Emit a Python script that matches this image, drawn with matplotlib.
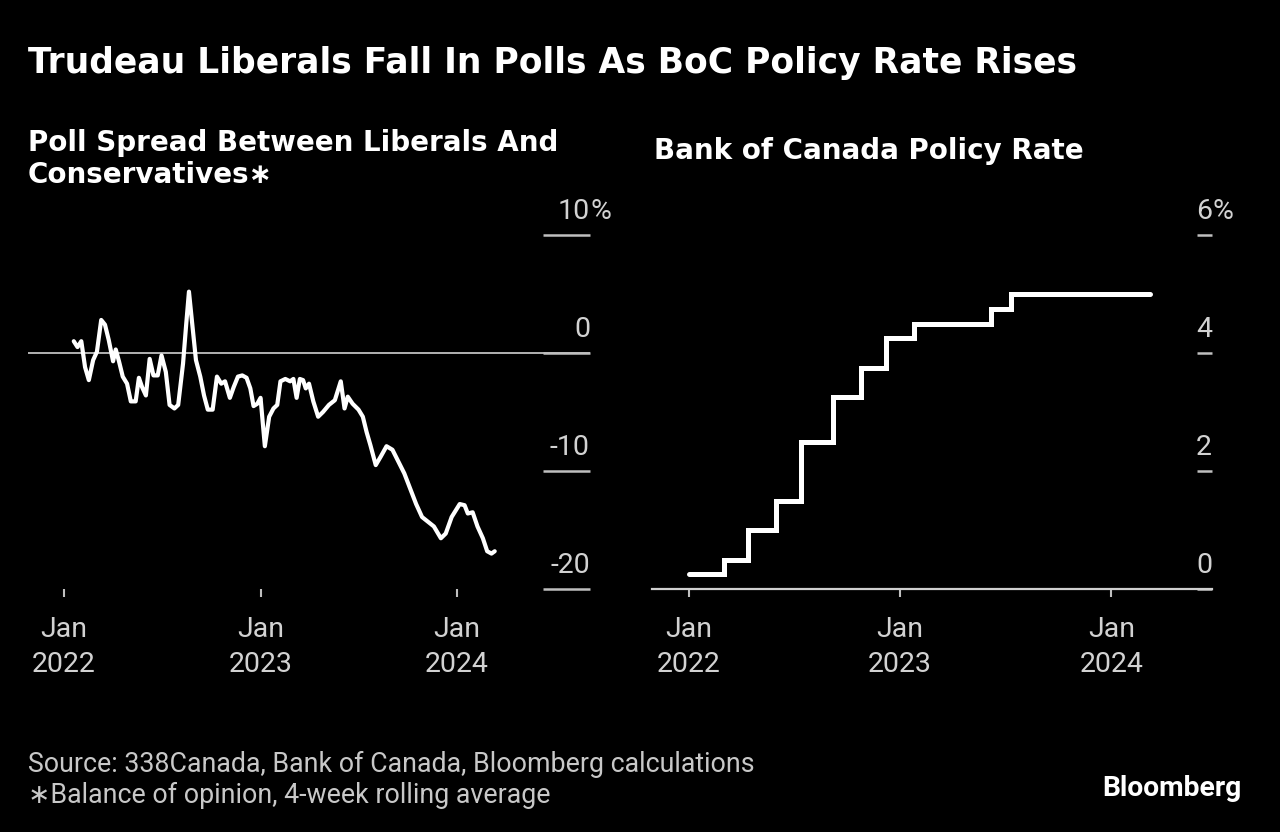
import matplotlib
matplotlib.use("Agg")
import matplotlib.pyplot as plt
import matplotlib.transforms as mtransforms
import pandas as pd

# ---------------- data ----------------
poll_dates = [
    "2022-01-19", "2022-01-26", "2022-02-02", "2022-02-09", "2022-02-16", "2022-02-24",
    "2022-03-03", "2022-03-11", "2022-03-18", "2022-03-25", "2022-04-02", "2022-04-07",
    "2022-04-13", "2022-04-20", "2022-04-28", "2022-05-05", "2022-05-14", "2022-05-20",
    "2022-05-26", "2022-06-02", "2022-06-09", "2022-06-16", "2022-06-24", "2022-07-01",
    "2022-07-09", "2022-07-16", "2022-07-25", "2022-08-01", "2022-08-10", "2022-08-16",
    "2022-08-21", "2022-08-27", "2022-09-03", "2022-09-11", "2022-09-18", "2022-09-25",
    "2022-10-04", "2022-10-12", "2022-10-20", "2022-10-27", "2022-11-05", "2022-11-12",
    "2022-11-20", "2022-11-28", "2022-12-06", "2022-12-13", "2022-12-19", "2022-12-26",
    "2023-01-01", "2023-01-09", "2023-01-17", "2023-01-25", "2023-02-01", "2023-02-07",
    "2023-02-16", "2023-02-25", "2023-03-03", "2023-03-09", "2023-03-15", "2023-03-21",
    "2023-03-26", "2023-04-01", "2023-04-09", "2023-04-18", "2023-04-27", "2023-05-08",
    "2023-05-19", "2023-05-30", "2023-06-06", "2023-06-12", "2023-06-21", "2023-07-02",
    "2023-07-10", "2023-07-17", "2023-07-24", "2023-08-03", "2023-08-12", "2023-08-23",
    "2023-09-03", "2023-09-14", "2023-09-25", "2023-10-06", "2023-10-17", "2023-10-28",
    "2023-11-08", "2023-11-19", "2023-12-02", "2023-12-11", "2023-12-22", "2024-01-06",
    "2024-01-15", "2024-01-21", "2024-01-30", "2024-02-08", "2024-02-18", "2024-02-26",
    "2024-03-05", "2024-03-11",
]
poll_spread = [
    1.0, 0.5, 1.0, -1.2, -2.3, -0.6,
    0.1, 2.8, 2.4, 1.1, -0.7, 0.3,
    -0.7, -2.0, -2.6, -4.1, -4.1, -2.1,
    -2.9, -3.6, -0.5, -1.9, -1.9, -0.2,
    -1.6, -4.4, -4.7, -4.4, -0.9, 2.5,
    5.2, 2.5, -0.6, -2.0, -3.6, -4.8,
    -4.8, -2.0, -2.6, -2.4, -3.8, -2.9,
    -2.0, -1.9, -2.1, -3.0, -4.5, -4.3,
    -3.8, -7.9, -5.4, -4.7, -4.4, -2.4,
    -2.2, -2.4, -2.2, -3.8, -2.2, -2.3,
    -3.0, -2.6, -4.1, -5.4, -5.0, -4.4,
    -4.0, -2.4, -4.7, -3.7, -4.3, -4.8,
    -5.4, -6.7, -7.8, -9.5, -8.8, -7.9,
    -8.2, -9.2, -10.2, -11.5, -12.8, -13.9,
    -14.3, -14.7, -15.7, -15.3, -13.9, -12.8,
    -12.9, -13.6, -13.5, -14.7, -15.7, -16.8,
    -17.0, -16.8,
]

rate_dates = [
    "2022-01-01", "2022-03-02", "2022-04-13", "2022-06-01", "2022-07-13", "2022-09-07",
    "2022-10-26", "2022-12-07", "2023-01-25", "2023-06-07", "2023-07-12", "2024-03-08",
]
policy_rate = [0.25, 0.50, 1.00, 1.50, 2.50, 3.25, 3.75, 4.25, 4.50, 4.75, 5.00, 5.00]

poll_ticks = [10, 0, -10, -20]
poll_tick_labels = ["10", "0", "-10", "-20"]
rate_ticks = [6, 4, 2, 0]
rate_tick_labels = ["6", "4", "2", "0"]
x_tick_dates = ["2022-01-01", "2023-01-01", "2024-01-01"]
x_tick_labels = ["Jan\n2022", "Jan\n2023", "Jan\n2024"]

title = "Trudeau Liberals Fall In Polls As BoC Policy Rate Rises"
left_subtitle = "Poll Spread Between Liberals And\nConservatives\u2217"
right_subtitle = "Bank of Canada Policy Rate"
source_text = "Source: 338Canada, Bank of Canada, Bloomberg calculations\n\u2217Balance of opinion, 4-week rolling average"

# ---------------- style ----------------
W, H = 1280, 832
BG = "#000000"
TXT = "#ffffff"
TICK_TXT = "#d2d2d2"
TICK_COL = "#bfbfbf"
FONT = ["Roboto", "DejaVu Sans"]
BOLD_FONT = ["DejaVu Sans"]
TICK_FS = 20.5

plt.rcParams["font.family"] = FONT

fig = plt.figure(figsize=(W / 100, H / 100), dpi=100, facecolor=BG)
renderer = fig.canvas.get_renderer()


def fx(x):
    return x / W


def fy(y):
    return 1 - y / H


def fit_width(t, target_px):
    w = t.get_window_extent(renderer).width
    t.set_fontsize(t.get_fontsize() * target_px / w)


def make_axes(x0, x1, y0, y1):
    ax = fig.add_axes([fx(x0), fy(y1), fx(x1) - fx(x0), fy(y0) - fy(y1)])
    ax.set_facecolor(BG)
    for s in ax.spines.values():
        s.set_visible(False)
    return ax


pd_poll = pd.to_datetime(poll_dates)
pd_rate = pd.to_datetime(rate_dates)
xt = pd.to_datetime(x_tick_dates)

# ---------- left panel ----------
axL = make_axes(28, 590, 235, 589)
axL.axhline(0, color="#d0d0d0", lw=1.2, zorder=1)
axL.plot(pd_poll, poll_spread, color="white", lw=3.0, solid_joinstyle="round",
         solid_capstyle="round", zorder=3)
axL.set_xlim(pd.Timestamp("2021-10-26"), pd.Timestamp("2024-09-04"))
axL.set_ylim(-20, 10)

# ---------- right panel ----------
axR = make_axes(652, 1212, 235, 589)
axR.plot(pd_rate, policy_rate, color="white", lw=3.6, drawstyle="steps-post",
         solid_joinstyle="miter", solid_capstyle="round", zorder=3)
axR.set_xlim(pd.Timestamp("2021-10-29"), pd.Timestamp("2024-06-23"))
axR.set_ylim(0, 6)
axR.spines["bottom"].set_visible(True)
axR.spines["bottom"].set_color("#d0d0d0")
axR.spines["bottom"].set_linewidth(1.6)


def style_axis(ax, yticks, ylabels, ytick_len_px):
    ax.set_xticks(xt)
    ax.set_xticklabels(x_tick_labels, fontsize=TICK_FS, color=TICK_TXT, linespacing=1.36)
    ax.tick_params(axis="x", direction="out", length=8 * 0.72, width=1.5,
                   color=TICK_COL, pad=14)
    ax.yaxis.tick_right()
    ax.set_yticks(yticks)
    ax.set_yticklabels([])
    ax.tick_params(axis="y", direction="in", length=ytick_len_px * 0.72, width=1.8,
                   color=TICK_COL, pad=0, right=True, left=False)
    trans = mtransforms.blended_transform_factory(ax.transAxes, ax.transData)
    off = mtransforms.offset_copy(trans, fig=fig, x=0, y=10, units="dots")
    for i, (v, lab) in enumerate(zip(yticks, ylabels)):
        ax.text(1.0, v, lab, transform=off, ha="right", va="bottom",
                fontsize=TICK_FS, color=TICK_TXT, clip_on=False)
        if i == 0:
            ax.text(1.0, v, "%", transform=off, ha="left", va="bottom",
                    fontsize=TICK_FS, color=TICK_TXT, clip_on=False)


style_axis(axL, poll_ticks, poll_tick_labels, 47)
style_axis(axR, rate_ticks, rate_tick_labels, 15)

# ---------- texts ----------
t_title = fig.text(fx(28), fy(63), title, ha="left", va="center", fontsize=25,
                   fontweight="bold", color=TXT, family=BOLD_FONT)
fit_width(t_title, 1052)
t_sub1 = fig.text(fx(28), fy(159), left_subtitle, ha="left", va="center", fontsize=19.5,
                  fontweight="bold", color=TXT, linespacing=1.15, family=BOLD_FONT)
fit_width(t_sub1, 530)
t_sub2 = fig.text(fx(654), fy(151), right_subtitle, ha="left", va="center",
                  fontsize=t_sub1.get_fontsize(), fontweight="bold", color=TXT,
                  family=BOLD_FONT)
t_src = fig.text(fx(28), fy(780), source_text, ha="left", va="center", fontsize=19,
                 color="#c8c8c8", linespacing=1.2)
fit_width(t_src, 724)
t_bb = fig.text(fx(1242), fy(788), "Bloomberg", ha="right", va="center", fontsize=18.5,
                fontweight="bold", color=TXT, family=["Roboto"])
fit_width(t_bb, 140)

fig.savefig("out.png", dpi=100, facecolor=BG)
